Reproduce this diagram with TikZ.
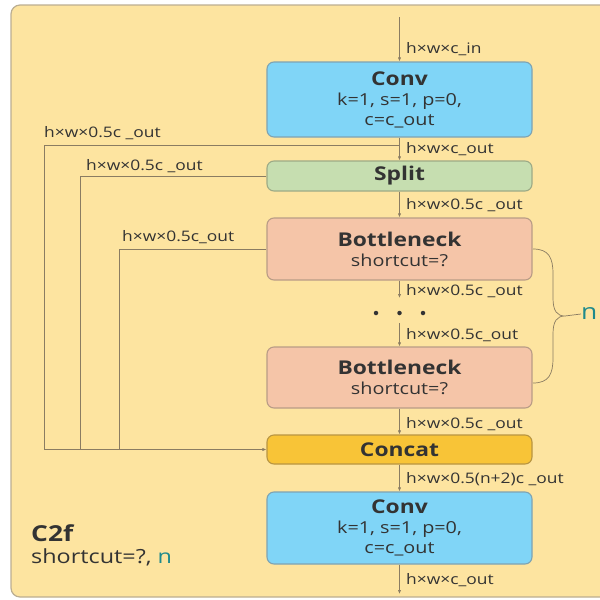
\documentclass[tikz,border=0pt]{standalone}
\usepackage{fontspec}
\setmainfont{Open Sans}[FakeStretch=1.2]
\usetikzlibrary{arrows.meta}
\definecolor{bgc}{HTML}{FDE4A0}
\definecolor{bordc}{HTML}{BBAE92}
\definecolor{convf}{HTML}{80D5F7}
\definecolor{convd}{HTML}{7FA3B2}
\definecolor{splitf}{HTML}{C6DEB0}
\definecolor{splitd}{HTML}{9DAA86}
\definecolor{botf}{HTML}{F5C5A8}
\definecolor{botd}{HTML}{B99C86}
\definecolor{catf}{HTML}{F8C437}
\definecolor{catd}{HTML}{B89542}
\definecolor{linec}{HTML}{8A7C62}
\definecolor{txtc}{HTML}{333333}
\definecolor{tealc}{HTML}{1F8A8C}
\tikzset{
  blk/.style={draw, rounded corners=7pt, line width=1.1pt, minimum width=265pt,
    align=center, inner sep=0pt, text=txtc, font=\fontsize{16.5}{20}\selectfont},
  lab/.style={anchor=west, inner sep=0pt, text=txtc, font=\fontsize{14.5}{16}\selectfont},
  conn/.style={draw=linec, line width=0.7pt},
  arr/.style={conn, -{Latex[length=4pt,width=3.2pt]}},
  dotn/.style={circle, fill=txtc, inner sep=0pt, minimum size=4.5pt}
}
\newcommand{\ttl}[1]{{\fontsize{19}{19}\selectfont\bfseries #1}}
\begin{document}
\begin{tikzpicture}[x=1pt,y=-1pt]
\useasboundingbox (0,0) rectangle (600,600);
\begin{scope}
\clip (0,0) rectangle (600,600);
\draw[draw=bordc, fill=bgc, rounded corners=9pt, line width=1.2pt] (11,5) rectangle (630,597);
\end{scope}

% blocks
\node[blk, fill=convf, draw=convd, minimum height=75pt] (conv1) at (399.5,99.5)
  {\ttl{Conv}\\k=1, s=1, p=0,\\c=c\_out};
\node[blk, fill=splitf, draw=splitd, minimum height=30pt] (split) at (399.5,176) {\ttl{Split}};
\node[blk, fill=botf, draw=botd, minimum height=62pt] (b1) at (399.5,249)
  {\ttl{Bottleneck}\\shortcut=?};
\node[blk, fill=botf, draw=botd, minimum height=61pt] (b2) at (399.5,377.5)
  {\ttl{Bottleneck}\\shortcut=?};
\node[blk, fill=catf, draw=catd, minimum height=29pt] (concat) at (399.5,449.5) {\ttl{Concat}};
\node[blk, fill=convf, draw=convd, minimum height=72pt] (conv2) at (399.5,528)
  {\ttl{Conv}\\k=1, s=1, p=0,\\c=c\_out};

% coordinates
\coordinate (in) at (399.5,17);
\coordinate (out) at (399.5,594);
\coordinate (t1) at (399.5,145);
\coordinate (b1e) at (399.5,298);
\coordinate (b2s) at (399.5,323);
\coordinate (k1) at (44,145);
\coordinate (k2) at (80,176);
\coordinate (k3) at (119,249);

% main arrows
\draw[arr] (in) -- (conv1);
\draw[arr] (conv1) -- (split);
\draw[arr] (split) -- (b1);
\draw[arr] (b1) -- (b1e);
\draw[arr] (b2s) -- (b2);
\draw[arr] (b2) -- (concat);
\draw[arr] (concat) -- (conv2);
\draw[arr] (conv2) -- (out);

% bypass
\draw[arr] (t1) -- (k1) |- (concat.west);
\draw[conn] (split.west) -- (k2) -- (k2 |- concat.west);
\draw[conn] (b1.west) -- (k3) -- (k3 |- concat.west);

% dots
\node[dotn] (d1) at (376,313) {};
\node[dotn] (d2) at (399.5,313) {};
\node[dotn] (d3) at (423,313) {};

% labels
\node[lab] (l1) at (406,49) {h×w×c\_in};
\node[lab] (l2) at (406,149) {h×w×c\_out};
\node[lab] (l3) at (406,205) {h×w×0.5c \_out};
\node[lab] (l4) at (406,291) {h×w×0.5c \_out};
\node[lab] (l5) at (406,335) {h×w×0.5c\_out};
\node[lab] (l6) at (406,424) {h×w×0.5c \_out};
\node[lab] (l7) at (406,479) {h×w×0.5(n+2)c \_out};
\node[lab] (l8) at (406,580) {h×w×c\_out};
\node[lab] (l9) at (44,133) {h×w×0.5c \_out};
\node[lab] (l10) at (86,166) {h×w×0.5c \_out};
\node[lab] (l11) at (122,237) {h×w×0.5c\_out};

% brace
\coordinate (bt) at (565,316);
\draw[conn] (533,249) .. controls (549,249) and (553,258) .. (553,274) -- (553,298)
  .. controls (553,311) and (557,316) .. (bt)
  .. controls (557,316) and (553,321) .. (553,334) -- (553,358)
  .. controls (553,374) and (549,383) .. (533,383);
\node[anchor=west, inner sep=0pt, text=tealc, font=\fontsize{22}{22}\selectfont] (nlab) at (581,314) {n};
\draw[conn] (bt) -- (nlab.west);

% C2f
\node[anchor=west, inner sep=0pt, text=txtc, font=\fontsize{22}{22}\selectfont\bfseries] (c2f) at (31,533) {C2f};
\node[anchor=west, inner sep=0pt, text=txtc, font=\fontsize{19.5}{20}\selectfont] (sc) at (31,557) {shortcut=?, \textcolor{tealc}{n}};
\end{tikzpicture}
\end{document}
